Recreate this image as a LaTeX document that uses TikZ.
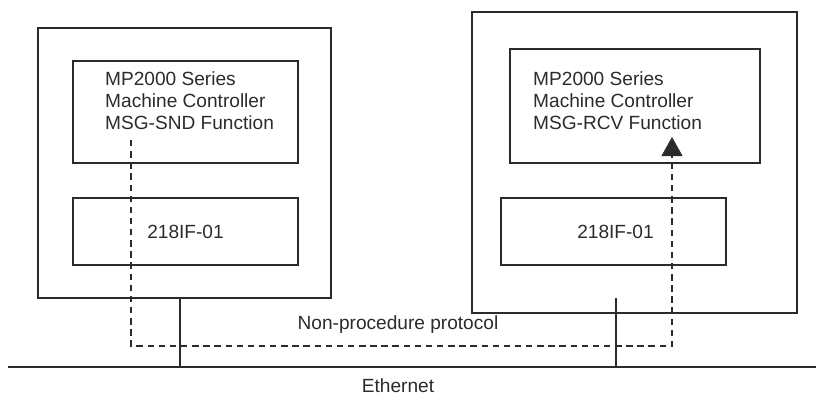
\documentclass[tikz,border=0pt]{standalone}
\usepackage{fontspec}
\setmainfont{Liberation Sans}
\usetikzlibrary{arrows.meta, positioning, calc}
\usepackage{xcolor}
\definecolor{linecol}{HTML}{2B2B2B}

\begin{document}
\begin{tikzpicture}[
  x=0.03cm, y=-0.03cm,
  unitbox/.style={draw=linecol, line width=0.9pt, inner sep=0pt},
  label/.style={font=\fontsize{16.3}{18.7}\selectfont, text=linecol, align=left, inner sep=0pt},
  bus/.style={draw=linecol, line width=1.7pt},
  dashline/.style={draw=linecol, line width=0.9pt, dash pattern=on 5.5pt off 4pt},
  arrow/.style={-{Triangle[width=0.63cm,length=0.57cm]}}
]
\useasboundingbox (0,0) rectangle (816,396);

% sending controller
\node[unitbox, minimum width=8.79cm, minimum height=8.1cm] (sndunit) at (184.5,163) {};
\node[unitbox, minimum width=6.75cm, minimum height=3.06cm] (sndcpu) at (185.5,112) {};
\node[unitbox, minimum width=6.75cm, minimum height=2.01cm] (sndif) at (185.5,231.5) {};
\node[label, anchor=west] (sndtext) at (105,101) {MP2000 Series\\Machine Controller\\MSG-SND Function};
\node[label] (sndiftext) at (185.5,232) {218IF-01};

% receiving controller
\node[unitbox, minimum width=9.75cm, minimum height=9.03cm] (rcvunit) at (634.5,162.5) {};
\node[unitbox, minimum width=7.5cm, minimum height=3.42cm] (rcvcpu) at (635,106) {};
\node[unitbox, minimum width=6.75cm, minimum height=2.01cm] (rcvif) at (613.5,231.5) {};
\node[label, anchor=west] (rcvtext) at (533,101) {MP2000 Series\\Machine Controller\\MSG-RCV Function};
\node[label] (rcviftext) at (615.5,232) {218IF-01};

% ethernet
\coordinate (ethL) at (8,367);
\coordinate (ethR) at (816,367);
\coordinate (sndtap) at (180,298);
\coordinate (rcvtap) at (616,298);
\draw[bus] (ethL) -- (ethR);
\draw[bus] (sndtap) -- (sndtap |- ethL);
\draw[bus] (rcvtap) -- (rcvtap |- ethL);
\node[label] (ethtext) at (398,386) {Ethernet};

% message path
\coordinate (msgstart) at (131,140);
\coordinate (msgend) at (672,137);
\coordinate (msglevel) at (0,346);
\draw[dashline, arrow] (msgstart) |- (msgend |- msglevel) -- (msgend);
\node[label] (prottext) at (398,325) {Non-procedure protocol};
\end{tikzpicture}
\end{document}
